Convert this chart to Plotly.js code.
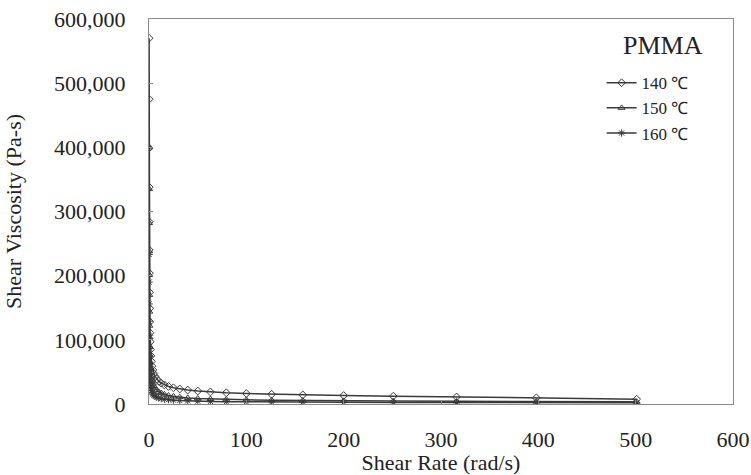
<!DOCTYPE html>
<html>
<head>
<meta charset="utf-8">
<script src="https://cdn.plot.ly/plotly-3.0.1.min.js"></script>
<style>
html,body{margin:0;padding:0;background:#fff;}
#chart{width:751px;height:475px;}
#chart svg text{font-family:'Liberation Serif', serif !important;}
</style>
</head>
<body>
<div id="chart"></div>
<script>
// Shear rate (rad/s), log-spaced frequency sweep
const shearRate = [0.1, 0.126, 0.158, 0.2, 0.251, 0.316, 0.398, 0.501, 0.631, 0.794,
  1.0, 1.26, 1.58, 2.0, 2.51, 3.16, 3.98, 5.01, 6.31, 7.94,
  10.0, 12.6, 15.8, 20.0, 25.1, 31.6, 39.8, 50.1, 63.1, 79.4,
  100, 126, 158, 200, 251, 316, 398, 501];

// Shear viscosity (Pa-s)
const visc140 = [570000, 475000, 399000, 338000, 284000, 240000, 204000, 174000, 149000, 128000,
  111000, 97000, 85000, 75000, 66500, 59000, 53000, 47500, 43000, 39000,
  35500, 32500, 29800, 27400, 25300, 23400, 21700, 20200, 18800, 17500,
  16300, 15200, 14200, 13200, 12200, 11000, 9500, 7500];
const visc150 = [400000, 335000, 282000, 238000, 201000, 170000, 144000, 122000, 104000, 89000,
  76000, 65000, 56000, 48500, 42000, 36500, 32000, 28000, 24500, 21500,
  19000, 17000, 15000, 13300, 11900, 10600, 9500, 8600, 7800, 7100,
  6500, 5900, 5400, 4900, 4500, 4100, 3800, 3500];
const visc160 = [233000, 190000, 156000, 129000, 107000, 89000, 74000, 62000, 52000, 44000,
  37500, 32000, 27500, 23700, 20500, 17800, 15500, 13600, 12000, 10600,
  9400, 8400, 7500, 6700, 6000, 5400, 4900, 4400, 4000, 3700,
  3400, 3100, 2850, 2600, 2400, 2200, 2050, 1900];

const seriesNames = ['140 \u2103', '150 \u2103', '160 \u2103'];
const xTicks = [0, 100, 200, 300, 400, 500, 600];
const yTicks = [0, 100000, 200000, 300000, 400000, 500000, 600000];
const yTickText = ['0', '100,000', '200,000', '300,000', '400,000', '500,000', '600,000'];

const serif = 'Liberation Serif';
const lineColor = '#3a3a3a';

const traces = [
  {x: shearRate, y: visc140, name: seriesNames[0], symbol: 'diamond-open'},
  {x: shearRate, y: visc150, name: seriesNames[1], symbol: 'triangle-up-open'},
  {x: shearRate, y: visc160, name: seriesNames[2], symbol: 'asterisk-open'}
].map(t => ({
  x: t.x, y: t.y, name: t.name, type: 'scatter', mode: 'lines+markers',
  line: {color: lineColor, width: 1.5},
  marker: {symbol: t.symbol, size: 6, color: lineColor, line: {color: lineColor, width: 1}}
}));

const layout = {
  width: 751, height: 475,
  margin: {l: 149, r: 18, t: 19, b: 71},
  paper_bgcolor: '#fff', plot_bgcolor: '#fff',
  font: {family: serif, color: '#222', size: 21},
  showlegend: true,
  legend: {
    x: 0.775, xanchor: 'left', y: 0.88, yanchor: 'top',
    bgcolor: 'rgba(0,0,0,0)', font: {family: serif, size: 17, color: '#222'},
    tracegroupgap: 0, itemwidth: 30
  },
  xaxis: {
    range: [0, 600], tickmode: 'array', tickvals: xTicks, ticktext: xTicks.map(String),
    showgrid: false, zeroline: false, showline: true, mirror: true,
    linecolor: '#8a8a8a', linewidth: 1,
    ticks: 'inside', ticklen: 4, tickcolor: '#8a8a8a',
    tickfont: {family: serif, size: 22, color: '#222'},
    ticklabelstandoff: 16,
    title: {text: 'Shear Rate (rad/s)', font: {family: serif, size: 22, color: '#222'}, standoff: 4}
  },
  yaxis: {
    range: [0, 600000], tickmode: 'array', tickvals: yTicks, ticktext: yTickText,
    showgrid: false, zeroline: false, showline: true, mirror: true,
    linecolor: '#8a8a8a', linewidth: 1,
    ticks: 'inside', ticklen: 4, tickcolor: '#8a8a8a',
    tickfont: {family: serif, size: 22, color: '#222'},
    ticklabelstandoff: 18,
    title: {text: 'Shear Viscosity (Pa-s)', font: {family: serif, size: 22, color: '#222'}, standoff: 26}
  },
  annotations: [{
    text: 'PMMA', xref: 'paper', yref: 'paper', x: 0.88, y: 0.93,
    xanchor: 'center', yanchor: 'middle', showarrow: false,
    font: {family: serif, size: 26, color: '#222'}
  }]
};

Plotly.newPlot('chart', traces, layout, {staticPlot: true});
</script>
</body>
</html>
